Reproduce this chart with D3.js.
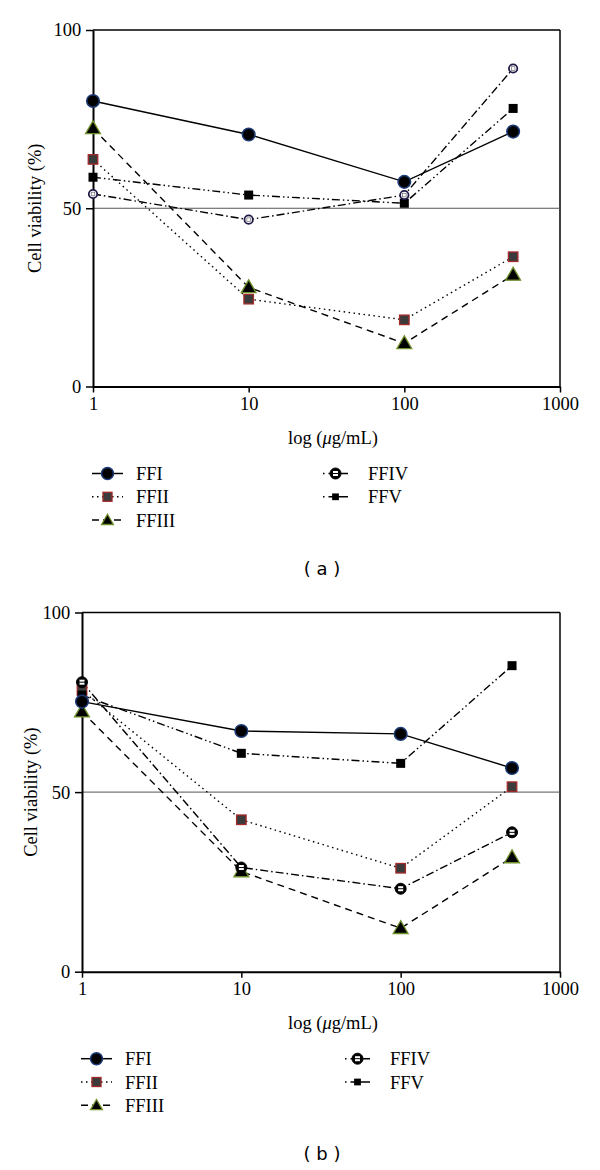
<!DOCTYPE html>
<html><head><meta charset="utf-8">
<script src="https://cdn.jsdelivr.net/npm/d3@7"></script>
<style>body{margin:0;background:#fff}svg{display:block}</style>
</head><body>
<script>
// ---- data ----
const doses = [1, 10, 100, 500];
const seriesNames = ["FFI", "FFII", "FFIII", "FFIV", "FFV"];
const xTicks = [1, 10, 100, 1000];
const yTicks = [0, 50, 100];
const panelLabels = ["( a )", "( b )"];
const xTitle = "log (μg/mL)";
const yTitle = "Cell viability (%)";

const a_FFI   = [80.1, 70.7, 57.4, 71.5];
const a_FFII  = [63.7, 24.5, 18.7, 36.4];
const a_FFIII = [72.4, 27.8, 12.1, 31.3];
const a_FFIV  = [54.0, 46.8, 53.7, 89.2];
const a_FFV   = [58.7, 53.7, 51.4, 78.0];

const b_FFI   = [75.2, 67.0, 66.2, 56.7];
const b_FFII  = [78.3, 42.3, 28.8, 51.5];
const b_FFIII = [72.4, 27.9, 12.1, 31.8];
const b_FFIV  = [80.6, 29.0, 23.1, 38.8];
const b_FFV   = [77.0, 60.8, 58.0, 85.2];

const panels = [
  {values: [a_FFI, a_FFII, a_FFIII, a_FFIV, a_FFV], left: 93, right: 560, top: 30, bottom: 386.5,
   label: panelLabels[0], ylabX: 35, legRight: 323, smallIV: true},
  {values: [b_FFI, b_FFII, b_FFIII, b_FFIV, b_FFV], left: 82, right: 560, top: 612.5, bottom: 971.7,
   label: panelLabels[1], ylabX: 31, legRight: 345, smallIV: false}
];

const dashes = ["none", "1.5,3.5", "7,5", "8,3,1.5,3", "8,3,1.5,3,1.5,3"];

const svg = d3.select("body").append("svg").attr("width", 600).attr("height", 1170);
const serif = "'Liberation Serif','Times New Roman',serif";
const FS = 18.5;

function drawMarker(g, i, x, y, scale, smallIV) {
  if (i === 0) {
    g.append("circle").attr("cx", x).attr("cy", y).attr("r", 6.3 * scale)
      .attr("fill", "#000").attr("stroke", "#1d3b78").attr("stroke-width", 1.5);
  } else if (i === 1) {
    const s = 9.5 * scale;
    g.append("rect").attr("x", x - s / 2).attr("y", y - s / 2).attr("width", s).attr("height", s)
      .attr("fill", "#3b3b3b").attr("stroke", "#a52a2a").attr("stroke-width", 1.3);
  } else if (i === 2) {
    const sym = d3.symbol().type(d3.symbolTriangle).size(95 * scale * scale);
    g.append("path").attr("d", sym()).attr("transform", `translate(${x},${y + 1})`)
      .attr("fill", "#000").attr("stroke", "#6f8f2a").attr("stroke-width", 1.3);
  } else if (i === 3) {
    if (smallIV) {
      g.append("circle").attr("cx", x).attr("cy", y).attr("r", 4.2 * scale)
        .attr("fill", "#fff").attr("stroke", "#221848").attr("stroke-width", 1.8);
      g.append("rect").attr("x", x - 1.8).attr("y", y - 1.8).attr("width", 3.6).attr("height", 3.6)
        .attr("fill", "#fff").attr("stroke", "#555").attr("stroke-width", 0.6);
    } else {
      g.append("circle").attr("cx", x).attr("cy", y).attr("r", 5.5 * scale)
        .attr("fill", "#000").attr("stroke", "#000").attr("stroke-width", 1);
      g.append("rect").attr("x", x - 2.5 * scale).attr("y", y - 2.5 * scale)
        .attr("width", 5 * scale).attr("height", 5 * scale).attr("fill", "#fff");
      g.append("line").attr("x1", x - 3 * scale).attr("x2", x + 3 * scale).attr("y1", y).attr("y2", y)
        .attr("stroke", "#000").attr("stroke-width", 1);
    }
  } else {
    const s = 9 * scale;
    g.append("rect").attr("x", x - s / 2).attr("y", y - s / 2).attr("width", s).attr("height", s)
      .attr("fill", "#000");
  }
}

panels.forEach(p => {
  const g = svg.append("g");
  const x = d3.scaleLog().domain([1, 1000]).range([p.left, p.right]);
  const y = d3.scaleLinear().domain([0, 100]).range([p.bottom, p.top]);

  // frame top & right
  g.append("line").attr("x1", p.left).attr("x2", p.right).attr("y1", p.top).attr("y2", p.top)
    .attr("stroke", "#000").attr("stroke-width", 1.5);
  g.append("line").attr("x1", p.right).attr("x2", p.right).attr("y1", p.top).attr("y2", p.bottom)
    .attr("stroke", "#000").attr("stroke-width", 1.5);
  // 50% reference line
  g.append("line").attr("x1", p.left).attr("x2", p.right).attr("y1", y(50)).attr("y2", y(50))
    .attr("stroke", "#555").attr("stroke-width", 1);

  // axes
  const xa = g.append("g").attr("transform", `translate(0,${p.bottom})`)
    .call(d3.axisBottom(x).tickValues(xTicks).tickFormat(d3.format("d")).tickSize(6).tickSizeOuter(0));
  const ya = g.append("g").attr("transform", `translate(${p.left},0)`)
    .call(d3.axisLeft(y).tickValues(yTicks).tickSize(7).tickSizeOuter(0));
  [xa, ya].forEach(a => {
    a.select(".domain").attr("stroke", "#000").attr("stroke-width", 2);
    a.selectAll(".tick line").attr("stroke", "#000").attr("stroke-width", 1.5);
    a.selectAll("text").attr("font-family", serif).attr("font-size", FS).attr("fill", "#000");
  });
  xa.selectAll("text").attr("dy", "0.8em");
  ya.selectAll("text").attr("dx", "-0.1em");

  // series lines
  const line = d3.line().x((d, i) => x(doses[i])).y(d => y(d));
  const order = [2, 1, 3, 4, 0];
  order.forEach(i => {
    g.append("path").attr("d", line(p.values[i])).attr("fill", "none")
      .attr("stroke", "#000").attr("stroke-width", 1.4)
      .attr("stroke-dasharray", dashes[i]);
  });
  [1, 2, 4, 0, 3].forEach(i => {
    p.values[i].forEach((v, j) => drawMarker(g, i, x(doses[j]), y(v), 1, p.smallIV));
  });

  // axis titles
  g.append("text").attr("x", 333).attr("y", p.bottom + 57).attr("text-anchor", "middle")
    .attr("font-family", serif).attr("font-size", FS).attr("fill", "#000")
    .html('log (<tspan font-style="italic">μ</tspan>g/mL)');
  g.append("text").attr("transform", `translate(${p.ylabX},${(p.top + p.bottom) / 2}) rotate(-90)`)
    .attr("text-anchor", "middle").attr("dy", "0.35em").attr("font-family", serif).attr("font-size", FS).attr("fill", "#000")
    .text(yTitle);

  // legend
  const legY0 = p.bottom + 87, legDy = 23.3;
  const legPos = [
    {lx: p.left - 1, row: 0}, {lx: p.left - 1, row: 1}, {lx: p.left - 1, row: 2},
    {lx: p.legRight, row: 0}, {lx: p.legRight, row: 1}
  ];
  seriesNames.forEach((name, i) => {
    const lp = legPos[i];
    const ly = legY0 + lp.row * legDy;
    const w = i < 3 ? 31 : 25;
    g.append("line").attr("x1", lp.lx).attr("x2", lp.lx + w).attr("y1", ly).attr("y2", ly)
      .attr("stroke", "#000").attr("stroke-width", 1.5)
      .attr("stroke-dasharray", i === 0 ? "none" : (i === 1 ? "1.5,3.5" : (i === 2 ? "7,4" : (i === 3 ? "1.5,4,20,0" : "1.5,4,20,4,1.5,4"))));
    const sc = i === 2 ? 0.8 : (i === 4 ? 0.75 : (i === 3 ? 1.0 : 0.95));
    drawMarker(g, i, lp.lx + w / 2, ly, sc, false);
    g.append("text").attr("x", lp.lx + w + (i < 3 ? 13 : 20)).attr("y", ly + 6.5)
      .attr("font-family", serif).attr("font-size", FS).attr("fill", "#000").text(name);
  });

  // panel label
  g.append("text").attr("x", 322).attr("y", p.bottom + 188).attr("text-anchor", "middle")
    .attr("font-family", "'DejaVu Sans',sans-serif").attr("font-size", 18).attr("fill", "#000")
    .text(p.label);
});
</script>
</body></html>
